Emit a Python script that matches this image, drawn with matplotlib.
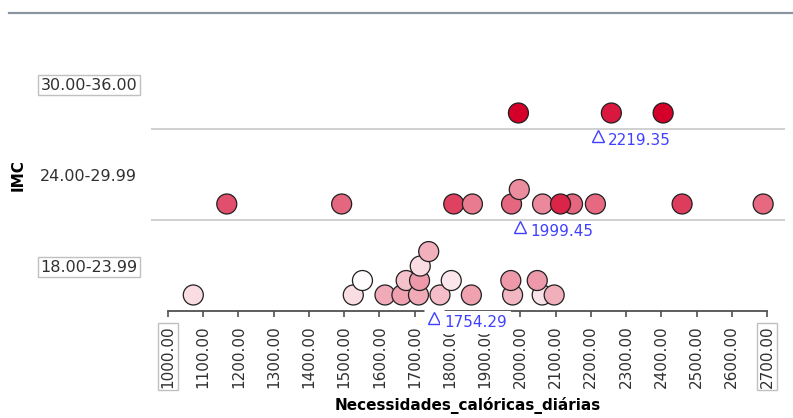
import numpy as np
import matplotlib
matplotlib.use("Agg")
import matplotlib.pyplot as plt
from matplotlib.colors import LinearSegmentedColormap, Normalize
from matplotlib.lines import Line2D

# IMC bands (bottom to top)
categories = ["18.00-23.99", "24.00-29.99", "30.00-36.00"]

# daily caloric needs per person, and the person's IMC (drives the colour)
calorias_18 = [1072, 1526, 1552, 1616, 1664, 1676, 1711, 1714, 1716, 1740,
               1772, 1804, 1861, 1978, 1973, 2062, 2048, 2096]
imc_18 = [19.8, 19.8, 18.2, 22.5, 23.0, 21.3, 22.5, 23.4, 19.8, 22.2,
          21.5, 19.3, 23.0, 21.8, 23.4, 19.5, 23.4, 22.3]

calorias_24 = [1167, 1493, 1811, 1864, 1975, 1997, 2063, 2148, 2114, 2213,
               2459, 2689]
imc_24 = [27.3, 26.1, 28.0, 25.0, 26.1, 24.1, 24.3, 26.1, 29.6, 26.0,
          28.3, 26.0]

calorias_30 = [1994.6, 2258.25, 2405.2]
imc_30 = [33.0, 30.2, 33.5]

# group means shown under each row
means = [1754.29, 1999.45, 2219.35]

ticks = np.arange(1000, 2701, 100)
boxed_ticks = [1000, 2700]

rows = [(calorias_18, imc_18), (calorias_24, imc_24), (calorias_30, imc_30)]

cmap = LinearSegmentedColormap.from_list("imc", ["#ffffff", "#d4002a"])
norm = Normalize(18, 31.5)
blue = "#4040ff"


def stack_levels(values, min_gap):
    # put each dot on the lowest level where it doesn't sit too close to another
    placed = {}
    levels = []
    for v in values:
        lvl = 0
        while any(abs(v - p) < min_gap for p in placed.get(lvl, [])):
            lvl += 1
        placed.setdefault(lvl, []).append(v)
        levels.append(lvl)
    return levels


fig = plt.figure(figsize=(7.93, 4.18), dpi=100)
ax = fig.add_axes([151 / 793, 1 - 311 / 418, 634 / 793, 273 / 418])
ax.set_xlim(952, 2751)
ax.set_ylim(0, 3)

for i, (cal, imc) in enumerate(rows):
    lv = np.array(stack_levels(cal, 33))
    y = i + 0.176 + lv * 0.159
    ax.scatter(cal, y, s=207, c=imc, cmap=cmap, norm=norm,
               edgecolors="#202020", linewidths=0.9, zorder=3, clip_on=False)

# row separators
for yy in [1, 2]:
    ax.axhline(yy, color="#c8c8c8", lw=1.2, zorder=1)

# mean markers; the bottom one sits on the axis and blanks what is under it
for i, m in enumerate(means):
    ym = i - 0.082
    if i == 0:
        ax.plot(m, ym, marker="s", ms=14, mfc="white", mec="none",
                clip_on=False, zorder=4)
        box = dict(boxstyle="square,pad=0.25", fc="white", ec="none")
    else:
        box = None
    ax.plot(m, ym, marker="^", ms=8, mfc="none", mec=blue, mew=1.0,
            clip_on=False, zorder=5)
    ax.annotate(f"{m:.2f}", xy=(m, ym), xytext=(7.5, -3),
                textcoords="offset points", ha="left", va="center",
                color=blue, fontsize=11, annotation_clip=False, zorder=5,
                bbox=box)

for s in ["top", "right", "left"]:
    ax.spines[s].set_visible(False)
ax.spines["bottom"].set_bounds(1000, 2700)
ax.spines["bottom"].set_color("#505050")
ax.spines["bottom"].set_linewidth(1.3)

ax.set_xticks(ticks)
ax.set_xticklabels([f"{t:.2f}" for t in ticks], rotation=90, fontsize=11,
                   color="#303030")
ax.tick_params(axis="x", direction="out", length=4, width=1.2,
               color="#505050", pad=6)
for t, lab in zip(ticks, ax.get_xticklabels()):
    if t in boxed_ticks:
        lab.set_bbox(dict(boxstyle="square,pad=0.15", fc="white",
                          ec="#c0c0c0", lw=1))

ax.set_yticks([0.5, 1.5, 2.5])
ax.set_yticklabels(categories, fontsize=11.5, color="#303030")
ax.tick_params(axis="y", length=0, pad=10)
for k, lab in enumerate(ax.get_yticklabels()):
    if k != 1:
        lab.set_bbox(dict(boxstyle="square,pad=0.15", fc="white",
                          ec="#c0c0c0", lw=1))

fig.text(18 / 793, 1 - 175 / 418, "IMC", rotation=90, ha="center",
         va="center", fontweight="bold", fontsize=11)
fig.text(468 / 793, 1 - 406 / 418, "Necessidades_calóricas_diárias",
         ha="center", va="center", fontweight="bold", fontsize=11)

# frame line along the top
fig.add_artist(Line2D([9 / 793, 1], [1 - 13 / 418] * 2, color="#8a949e",
                      lw=1.6))

fig.savefig("out.png", dpi=100)
